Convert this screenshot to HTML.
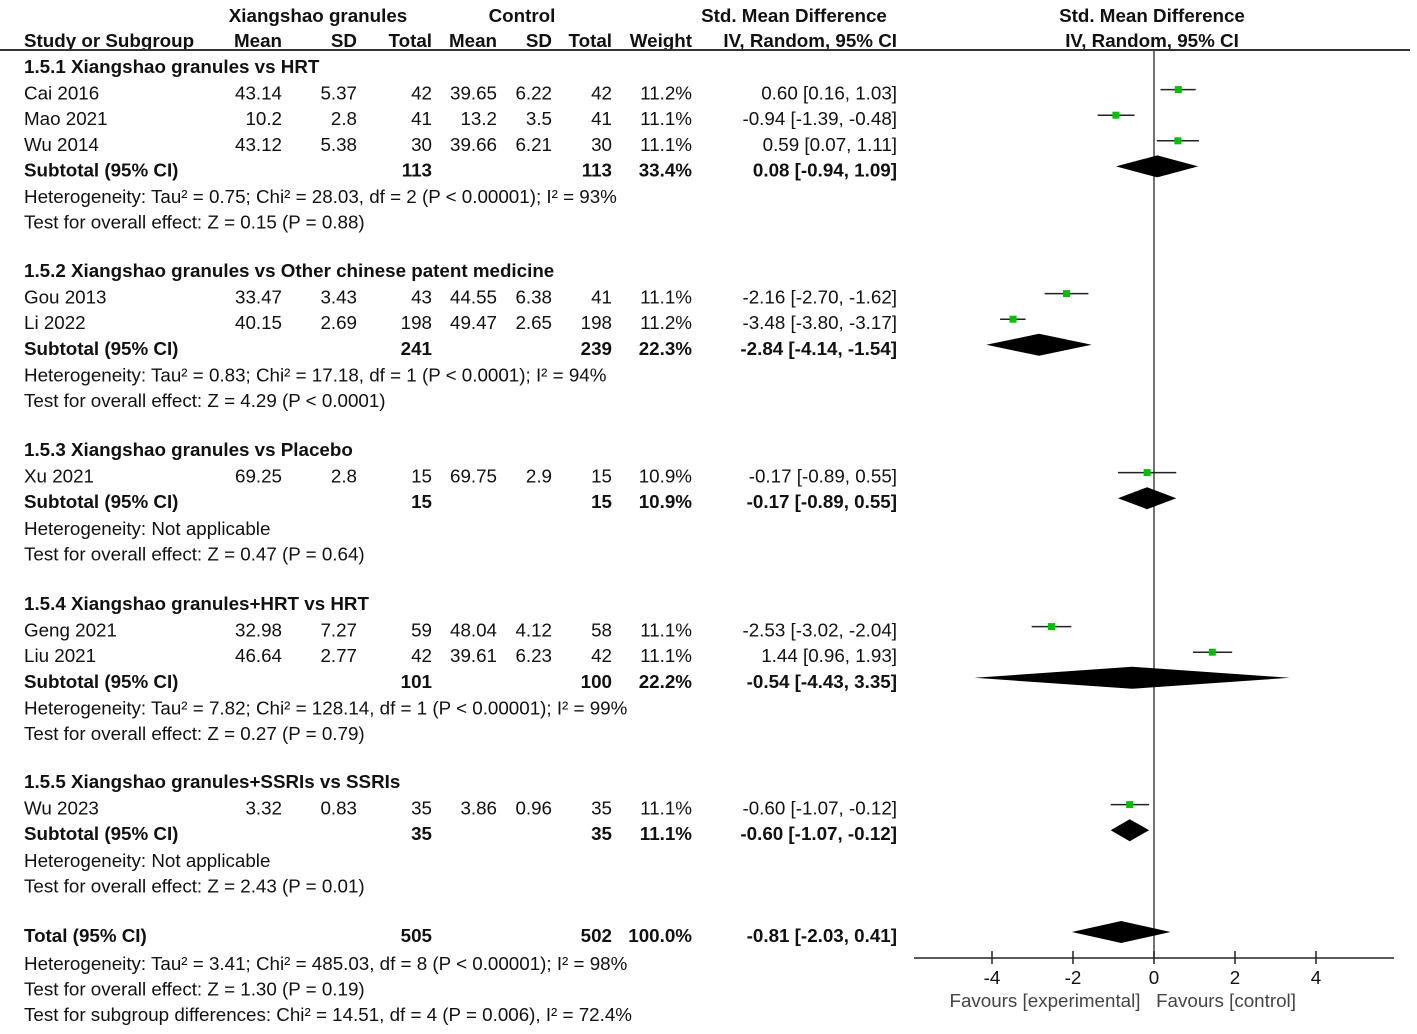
<!DOCTYPE html>
<html><head><meta charset="utf-8"><style>
html,body{margin:0;padding:0;background:#fff}
svg{display:block}
text{font-family:"Liberation Sans",Arial,sans-serif;font-size:18.8px;fill:#111}
.b{font-weight:bold}
</style></head><body>
<svg id="c" width="1417" height="1034" viewBox="0 0 1417 1034">
<g id="tbl"></g>
<g id="plot"></g>
</svg>
<script>
// ---- data ----
const studies = ["Cai 2016","Mao 2021","Wu 2014","Gou 2013","Li 2022","Xu 2021","Geng 2021","Liu 2021","Wu 2023"];
const studyGroup = [0,0,0,1,1,2,3,3,4];
const expMean = ["43.14","10.2","43.12","33.47","40.15","69.25","32.98","46.64","3.32"];
const expSD = ["5.37","2.8","5.38","3.43","2.69","2.8","7.27","2.77","0.83"];
const expN = [42,41,30,43,198,15,59,42,35];
const ctlMean = ["39.65","13.2","39.66","44.55","49.47","69.75","48.04","39.61","3.86"];
const ctlSD = ["6.22","3.5","6.21","6.38","2.65","2.9","4.12","6.23","0.96"];
const ctlN = [42,41,30,41,198,15,58,42,35];
const weights = ["11.2%","11.1%","11.1%","11.1%","11.2%","10.9%","11.1%","11.1%","11.1%"];
const smd = [0.60,-0.94,0.59,-2.16,-3.48,-0.17,-2.53,1.44,-0.60];
const lo = [0.16,-1.39,0.07,-2.70,-3.80,-0.89,-3.02,0.96,-1.07];
const hi = [1.03,-0.48,1.11,-1.62,-3.17,0.55,-2.04,1.93,-0.12];
const groupTitles = ["1.5.1 Xiangshao granules vs HRT","1.5.2 Xiangshao granules vs Other chinese patent medicine","1.5.3 Xiangshao granules vs Placebo","1.5.4 Xiangshao granules+HRT vs HRT","1.5.5 Xiangshao granules+SSRIs vs SSRIs"];
const subExpN = [113,241,15,101,35];
const subCtlN = [113,239,15,100,35];
const subWeight = ["33.4%","22.3%","10.9%","22.2%","11.1%"];
const subSmd = [0.08,-2.84,-0.17,-0.54,-0.60];
const subLo = [-0.94,-4.14,-0.89,-4.43,-1.07];
const subHi = [1.09,-1.54,0.55,3.35,-0.12];
const subHet = ["Heterogeneity: Tau² = 0.75; Chi² = 28.03, df = 2 (P < 0.00001); I² = 93%","Heterogeneity: Tau² = 0.83; Chi² = 17.18, df = 1 (P < 0.0001); I² = 94%","Heterogeneity: Not applicable","Heterogeneity: Tau² = 7.82; Chi² = 128.14, df = 1 (P < 0.00001); I² = 99%","Heterogeneity: Not applicable"];
const subTest = ["Test for overall effect: Z = 0.15 (P = 0.88)","Test for overall effect: Z = 4.29 (P < 0.0001)","Test for overall effect: Z = 0.47 (P = 0.64)","Test for overall effect: Z = 0.27 (P = 0.79)","Test for overall effect: Z = 2.43 (P = 0.01)"];
const totalN = [505,502];
const totalSmd = -0.81, totalLo = -2.03, totalHi = 0.41;
const totalNotes = ["Heterogeneity: Tau² = 3.41; Chi² = 485.03, df = 8 (P < 0.00001); I² = 98%","Test for overall effect: Z = 1.30 (P = 0.19)","Test for subgroup differences: Chi² = 14.51, df = 4 (P = 0.006), I² = 72.4%"];
const ticks = [-4,-2,0,2,4];

// ---- layout ----
const NS="http://www.w3.org/2000/svg";
const tbl=document.getElementById('tbl'), plot=document.getElementById('plot');
const X0=1154, PX=40.5;
function xs(v){return X0+v*PX;}
function el(tag,attrs,parent,txt){const e=document.createElementNS(NS,tag);for(const k in attrs)e.setAttribute(k,attrs[k]);if(txt!==undefined)e.textContent=txt;parent.appendChild(e);return e;}
function t(x,y,s,anchor,bold,name){const e=el('text',{x:x,y:y,'text-anchor':anchor||'start'},tbl,s);if(bold)e.setAttribute('class','b');


return e;}
function fmt(v){return v.toFixed(2);}
function ci(a,b,c){return fmt(a)+" ["+fmt(b)+", "+fmt(c)+"]";}
const cols=[282,357,432,497,552,612,692,897];

// headers
t(318,22,"Xiangshao granules","middle",true,'header-experimental');
t(522,22,"Control","middle",true,'header-control');
t(794,22,"Std. Mean Difference","middle",true,'header-smd');
t(1152,22,"Std. Mean Difference","middle",true,'header-smd-plot');
t(24,47,"Study or Subgroup","start",true,'header-study');
["Mean","SD","Total","Mean","SD","Total","Weight"].forEach((h,i)=>t(cols[i],47,h,"end",true,'header-col'));
t(897,47,"IV, Random, 95% CI","end",true,'header-ci');
t(1152,47,"IV, Random, 95% CI","middle",true,'header-ci-plot');
const hl=el('line',{x1:0,y1:50,x2:1410,y2:50,stroke:'#333','stroke-width':2},tbl);



// rows
const groupStart=[67,271,450,604,782];
const rowH=25.6;
let si=0;
const markRows=[];
for(let g=0;g<5;g++){
  let y=groupStart[g];
  t(24,y+6,groupTitles[g],"start",true,'subgroup-title');
  y+=rowH+1;
  while(si<studies.length && studyGroup[si]===g){
    const r=[expMean[si],expSD[si],expN[si],ctlMean[si],ctlSD[si],ctlN[si],weights[si]];
    t(24,y+6,studies[si],"start",false,'study-name');
    r.forEach((v,i)=>t(cols[i],y+6,String(v),"end",false,'study-value'));
    t(897,y+6,ci(smd[si],lo[si],hi[si]),"end",false,'study-ci');
    markRows.push({type:'s',i:si,y:y-4});
    si++; y+=rowH;
  }
  t(24,y+6,"Subtotal (95% CI)","start",true,'subtotal-label');
  t(cols[2],y+6,String(subExpN[g]),"end",true,'subtotal-n');
  t(cols[5],y+6,String(subCtlN[g]),"end",true,'subtotal-n');
  t(cols[6],y+6,subWeight[g],"end",true,'subtotal-weight');
  t(897,y+6,ci(subSmd[g],subLo[g],subHi[g]),"end",true,'subtotal-ci');
  markRows.push({type:'d',m:subSmd[g],l:subLo[g],h:subHi[g],y:y-4});
  y+=rowH+1;
  t(24,y+6,subHet[g],"start",false,'heterogeneity');
  y+=rowH;
  t(24,y+6,subTest[g],"start",false,'overall-effect');
}
// total
t(24,942,"Total (95% CI)","start",true,'total-label');
t(cols[2],942,String(totalN[0]),"end",true,'total-n');
t(cols[5],942,String(totalN[1]),"end",true,'total-n');
t(cols[6],942,"100.0%","end",true,'total-weight');
t(897,942,ci(totalSmd,totalLo,totalHi),"end",true,'total-ci');
markRows.push({type:'d',m:totalSmd,l:totalLo,h:totalHi,y:932});
totalNotes.forEach((s,i)=>t(24,970+i*25.5,s,"start",false,'total-note'));

// plot
const axY=958;
const zl=el('line',{x1:X0,y1:50,x2:X0,y2:axY,stroke:'#444','stroke-width':1.5},plot);


const ax=el('line',{x1:914,y1:axY,x2:1394,y2:axY,stroke:'#222','stroke-width':1.5},plot);


ticks.forEach(v=>{
  const tk=el('line',{x1:xs(v),y1:axY-7,x2:xs(v),y2:axY+6,stroke:'#222','stroke-width':1.5},plot);
  
  
  const tl=el('text',{x:xs(v),y:axY+26,'text-anchor':'middle'},plot,String(v));
  
  
});
const f1=el('text',{x:1045,y:1007,'text-anchor':'middle',style:'fill:#444'},plot,"Favours [experimental]");


const f2=el('text',{x:1226,y:1007,'text-anchor':'middle',style:'fill:#444'},plot,"Favours [control]");



markRows.forEach(r=>{
  if(r.type==='s'){
    const ln=el('line',{x1:xs(lo[r.i]),y1:r.y,x2:xs(hi[r.i]),y2:r.y,stroke:'#222','stroke-width':1.5},plot);
    
    
    const sq=el('rect',{x:xs(smd[r.i])-3.5,y:r.y-3.5,width:7,height:7,fill:'#00c000'},plot);
    
    
  } else {
    const h=11;
    const d=el('polygon',{points:`${xs(r.l)},${r.y} ${xs(r.m)},${r.y-h} ${xs(r.h)},${r.y} ${xs(r.m)},${r.y+h}`,fill:'#000'},plot);
    
    
  }
});
</script>
</body></html>
